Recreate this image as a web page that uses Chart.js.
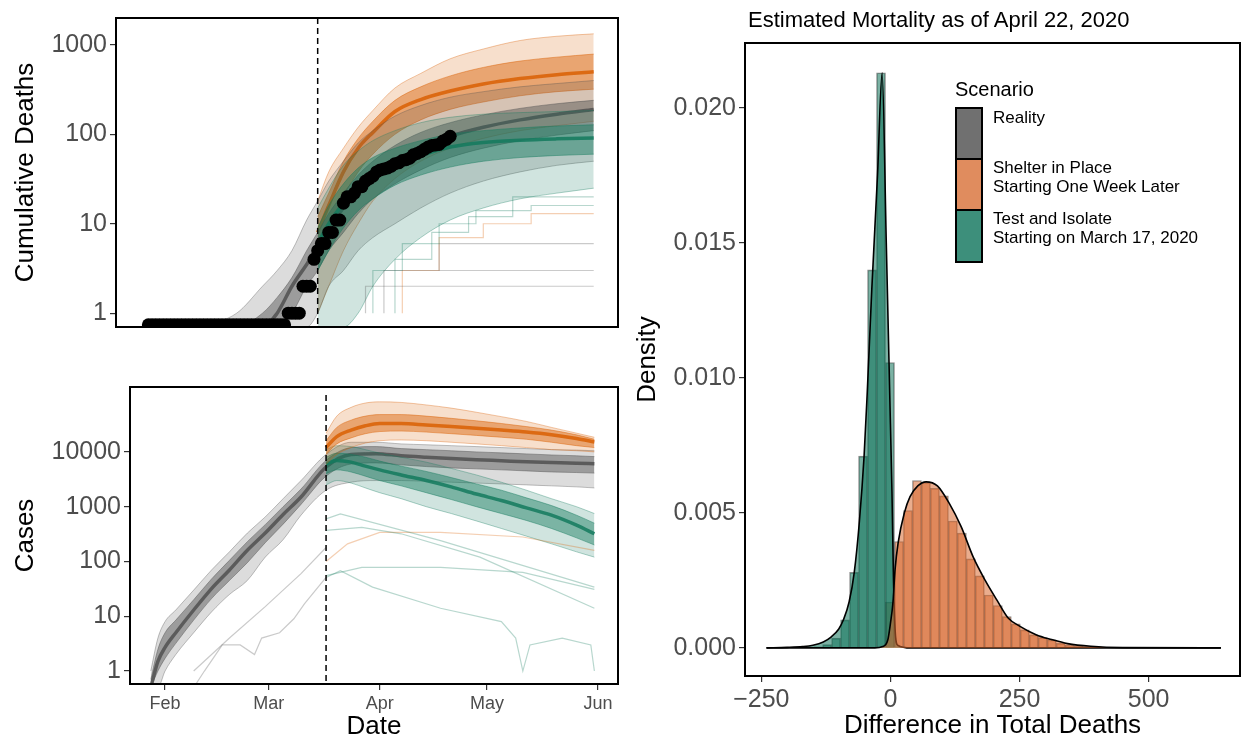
<!DOCTYPE html>
<html>
<head>
<meta charset="utf-8">
<script src="https://cdn.jsdelivr.net/npm/chart.js@4.4.1/dist/chart.umd.min.js"></script>
<style>
  body { margin: 0; background: #fff; }
  #wrap { position: relative; width: 1241px; height: 740px; font-family: "Liberation Sans", Arial, sans-serif; overflow: hidden; }
  .pane { position: absolute; }
  #title { position: absolute; left: 748px; top: 7px; font-size: 22px; color: #000; white-space: nowrap; }
  #legend { position: absolute; left: 955px; top: 78px; color: #000; }
  #legend .head { font-size: 20px; margin-bottom: 6px; }
  #legend .row { position: relative; height: 52px; }
  #legend .key { position: absolute; left: 0; top: 0; width: 24px; height: 50px; border: 2px solid #000; }
  #legend .lab { position: absolute; left: 38px; font-size: 17px; line-height: 19px; white-space: nowrap; }
</style>
</head>
<body>
<div id="wrap">
  <div class="pane" style="left:0;top:0;width:630px;height:345px"><canvas id="deaths"></canvas></div>
  <div class="pane" style="left:0;top:345px;width:630px;height:395px"><canvas id="cases"></canvas></div>
  <div class="pane" style="left:630px;top:0;width:611px;height:740px"><canvas id="density"></canvas></div>
  <div id="title">Estimated Mortality as of April 22, 2020</div>
  <div id="legend">
    <div class="head">Scenario</div>
    <div class="row"><div class="key" style="background:#707070"></div><div class="lab" style="top:1px">Reality</div></div>
    <div class="row"><div class="key" style="background:#e08c5e;top:-1px"></div><div class="lab" style="top:-1px">Shelter in Place<br>Starting One Week Later</div></div>
    <div class="row"><div class="key" style="background:#3d8f7b;top:-2px"></div><div class="lab" style="top:-2px">Test and Isolate<br>Starting on March 17, 2020</div></div>
  </div>
</div>
<script>
// ---- shared date axis (day of year 2020) ----
const monthTicks = [32, 61, 92, 122, 153];
const monthLabels = ["Feb", "Mar", "Apr", "May", "Jun"];
const interventionDay = 77;

// ---- cumulative deaths panel ----
const deathTicks = [1, 10, 100, 1000];
const obsDays = [31, 32, 33, 34, 35, 36, 37, 38, 39, 40, 41, 42, 43, 44, 45, 46, 47, 48, 49, 50,
  51, 52, 53, 54, 55, 56, 57, 58, 59, 60, 61, 62, 63, 64, 65, 66, 67, 68, 69, 70,
  71, 72, 73, 74, 75, 76, 77, 78, 79, 80, 81, 82, 83, 84, 85, 86, 87, 88, 89, 90,
  91, 92, 93, 94, 95, 96, 97, 98, 99, 100, 101, 102, 103, 104, 105, 106, 107, 108, 109, 110,
  111, 112, 113];
const obsDeaths = [0.74, 0.74, 0.74, 0.74, 0.74, 0.74, 0.74, 0.74, 0.74, 0.74, 0.74, 0.74, 0.74, 0.74, 0.74, 0.74, 0.74, 0.74, 0.74, 0.74,
  0.74, 0.74, 0.74, 0.74, 0.74, 0.74, 0.74, 0.74, 0.74, 0.74, 0.74, 0.74, 0.74, 0.74, 0.74, 0.74, 0.74, 0.74, 1, 1,
  1, 1, 2, 2, 2, 4, 5, 6, 6, 8, 8, 11, 11, 17, 20, 20, 22, 26, 26, 30,
  32, 34, 38, 40, 41, 42, 44, 47, 48, 51, 52, 54, 59, 61, 64, 68, 72, 75, 76, 77,
  84, 88, 95];

const deathRealDays = [45, 55, 62, 66, 70, 74, 77, 80, 84, 88, 92, 98, 105, 113, 122, 132, 142, 152];
const deathRealHi    = [0.7, 1, 2, 3, 5, 11, 18, 30, 50, 80, 110, 160, 210, 260, 300, 340, 370, 400];
const deathRealMidHi = [0.7, 0.7, 1, 1.5, 2.5, 5, 8, 13, 22, 35, 50, 75, 105, 135, 165, 195, 220, 240];
const deathRealMed   = [0.7, 0.7, 0.7, 1, 2, 3.5, 5.5, 9, 15, 24, 34, 50, 70, 95, 120, 145, 168, 190];
const deathRealMidLo = [0.7, 0.7, 0.7, 0.7, 1, 2, 3, 5, 8, 13, 19, 28, 40, 55, 70, 85, 98, 110];
const deathRealLo    = [0.7, 0.7, 0.7, 0.7, 0.7, 0.7, 1, 2, 3, 5, 7, 10, 15, 22, 30, 38, 45, 50];

const deathScenDays = [77, 80, 84, 88, 92, 98, 105, 113, 122, 132, 142, 152];
const deathShelterHi    = [18, 38, 70, 120, 185, 330, 480, 700, 900, 1120, 1250, 1330];
const deathShelterMidHi = [12, 22, 50, 90, 140, 240, 340, 450, 560, 660, 730, 790];
const deathShelterMed   = [8, 16, 38, 70, 105, 180, 245, 305, 365, 420, 465, 500];
const deathShelterMidLo = [4, 8, 20, 38, 60, 100, 145, 190, 230, 270, 300, 320];
const deathShelterLo    = [1, 2, 5, 10, 18, 32, 50, 70, 90, 110, 125, 140];
const deathTestHi    = [15, 25, 45, 65, 85, 110, 135, 155, 168, 175, 180, 185];
const deathTestMidHi = [9, 16, 28, 42, 55, 70, 85, 100, 110, 118, 124, 128];
const deathTestMed   = [6, 10, 17, 26, 34, 46, 58, 72, 81, 86, 89, 91];
const deathTestMidLo = [3, 5, 9, 14, 19, 27, 35, 43, 50, 55, 58, 60];
const deathTestLo    = [0.7, 0.7, 0.7, 1, 2, 4, 7, 11, 15, 19, 22, 25];

const deathOutRealADays = [90, 101, 152];
const deathOutRealA = [1, 2, 2];
const deathOutRealBDays = [95, 109, 152];
const deathOutRealB = [1, 3, 3];
const deathOutRealCDays = [110, 132, 152];
const deathOutRealC = [3, 6, 6];
const deathOutTestADays = [92, 100, 110, 120, 135, 152];
const deathOutTestA = [1, 3, 6, 10, 14, 16];
const deathOutTestBDays = [98, 108, 118, 130, 152];
const deathOutTestB = [1, 4, 8, 12, 20];
const deathOutShelterDays = [100, 110, 122, 135, 152];
const deathOutShelter = [1, 3, 7, 10, 13];

// ---- cases panel ----
const caseTicks = [1, 10, 100, 1000, 10000];
const caseRealDays = [28, 30, 32, 35, 40, 45, 50, 55, 60, 65, 70, 77, 84, 91, 98, 105, 112, 119, 126, 133, 140, 147, 152];
const caseRealHi    = [1, 4, 8, 13, 30, 70, 150, 330, 650, 1400, 3000, 9000, 15000, 15000, 14000, 13500, 13000, 12500, 12000, 11500, 11000, 10800, 10500];
const caseRealMidHi = [0.7, 2.5, 5, 8.5, 20, 48, 105, 230, 470, 1000, 2100, 7000, 12000, 12500, 11500, 11000, 10500, 10000, 9600, 9200, 8800, 8500, 8200];
const caseRealMed   = [0.5, 1.5, 2.7, 5, 13, 32, 70, 160, 330, 720, 1500, 5300, 9000, 9300, 8500, 8000, 7600, 7200, 6900, 6600, 6400, 6200, 6100];
const caseRealMidLo = [0.5, 1, 1.7, 3.2, 8.5, 21, 45, 95, 220, 480, 1100, 3600, 6000, 6300, 5800, 5400, 5100, 4900, 4700, 4500, 4300, 4200, 4100];
const caseRealLo    = [0.5, 0.5, 1, 2, 5, 12, 25, 45, 120, 250, 700, 2000, 2800, 3000, 3000, 2900, 2800, 2700, 2600, 2500, 2400, 2300, 2200];

const caseScenDays = [77, 80, 84, 88, 92, 98, 105, 112, 119, 126, 133, 140, 147, 152];
const caseShelterHi    = [22000, 45000, 65000, 78000, 82000, 80000, 72000, 63000, 53000, 44000, 36000, 28000, 22000, 18500];
const caseShelterMidHi = [16000, 28000, 38000, 45000, 48000, 48000, 45000, 41000, 37000, 33000, 29000, 25000, 20500, 17000];
const caseShelterMed   = [12000, 19000, 25000, 30000, 33000, 33000, 31000, 29000, 27000, 25000, 23000, 20500, 17500, 15200];
const caseShelterMidLo = [9000, 14000, 18000, 21500, 23500, 24000, 23000, 21500, 20000, 18500, 17000, 15000, 13000, 12000];
const caseShelterLo    = [6000, 9000, 12000, 14500, 16000, 16500, 16000, 15000, 14000, 13000, 12000, 11000, 10500, 10000];
const caseTestHi    = [11000, 13000, 12500, 11000, 9500, 8000, 6500, 5000, 3800, 2800, 2000, 1400, 1000, 750];
const caseTestMidHi = [8000, 9500, 9000, 8000, 6800, 5500, 4400, 3400, 2600, 2000, 1450, 1050, 700, 500];
const caseTestMed   = [6000, 7000, 6500, 5500, 4700, 3800, 3000, 2300, 1700, 1300, 950, 700, 460, 320];
const caseTestMidLo = [4000, 4700, 4300, 3600, 3000, 2400, 1800, 1350, 1000, 750, 560, 400, 270, 200];
const caseTestLo    = [2500, 3000, 2700, 2200, 1800, 1400, 1000, 750, 550, 400, 290, 210, 150, 120];

const caseOutRealADays = [40, 43, 48, 53, 57, 59, 64, 68, 71, 77];
const caseOutRealA = [0.5, 1, 3, 3, 2, 4, 5, 9, 17, 51];
const caseOutRealBDays = [40, 50, 60, 70, 77];
const caseOutRealB = [1, 4, 15, 60, 180];
const caseOutTestADays = [77, 81, 90, 109, 126, 130, 132, 134, 143, 151, 152];
const caseOutTestA = [51, 68, 34, 14, 8, 4, 1, 3, 4, 3, 1];
const caseOutTestBDays = [77, 87, 109, 132, 152];
const caseOutTestB = [55, 78, 78, 63, 31];
const caseOutTestCDays = [77, 87, 98, 120, 152];
const caseOutTestC = [370, 420, 320, 120, 14];
const caseOutTestDDays = [77, 81, 109, 152];
const caseOutTestD = [600, 740, 240, 34];
const caseOutShelterDays = [77, 83, 92, 109, 132, 152];
const caseOutShelter = [100, 210, 340, 340, 280, 160];

// ---- density panel ----
const diffTicks = [-250, 0, 250, 500];
const densTicks = [0, 0.005, 0.01, 0.015, 0.02];
const testBins = [-140.0, -122.6, -105.2, -87.8, -70.4, -53.0, -35.6, -18.2, -0.8];
const testHist = [0.00004, 0.00012, 0.00036, 0.00104, 0.0028, 0.0071, 0.0140, 0.0213, 0.01057];
const shelterBins = [-0.8, 16.6, 34.0, 51.4, 68.8, 86.2, 103.6, 121.0, 138.4, 155.8, 173.2, 190.6, 208.0,
  225.4, 242.8, 260.2, 277.6, 295.0, 312.4, 329.8, 347.2, 364.6, 382.0, 399.4];
const shelterHist = [0.0017, 0.00394, 0.00509, 0.0062, 0.00612, 0.00591, 0.00563, 0.0047, 0.00425, 0.0033, 0.00267, 0.00196, 0.00157,
  0.00116, 0.00089, 0.00067, 0.00048, 0.00038, 0.0003, 0.00017, 0.0001, 0.00006, 0.00004, 0.00003];
const testCurveX = [-240, -200, -170, -150, -130, -115, -100, -91, -80, -70, -60, -51, -45, -36, -25, -16, -8, 0, 3, 6, 9, 14, 40, 640];
const testCurveY = [0, 0.00002, 0.00005, 0.0001, 0.00022, 0.0004, 0.0007, 0.00104, 0.0017, 0.0028, 0.0047, 0.0071, 0.0094, 0.0133, 0.0175, 0.0213, 0.0150, 0.0083, 0.0058, 0.0025, 0.0007, 0.0001, 0, 0];
const shelterCurveX = [-240, -30, -15, -5, 0, 5, 9, 15, 27, 38, 53, 69, 91, 114, 137, 160, 183, 206, 228, 251, 282, 312, 343, 388, 450, 640];
const shelterCurveY = [0, 0, 0.00005, 0.0003, 0.0009, 0.0017, 0.0029, 0.0039, 0.005, 0.0056, 0.006, 0.00615, 0.006, 0.00535, 0.00449, 0.00338, 0.00252, 0.00178, 0.00111, 0.0008, 0.00049, 0.00031, 0.00016, 0.00006, 0.00001, 0];

// ---- helpers ----
Chart.defaults.font.family = '"Liberation Sans", Arial, sans-serif';
const GRAY = [80, 80, 80];
const ORANGE = [217, 95, 2];
const GREEN = [20, 122, 94];
const rgba = (c, a) => `rgba(${c[0]},${c[1]},${c[2]},${a})`;
const pts = (xs, ys) => xs.map((x, i) => ({ x: x, y: ys[i] }));

// earlier datasets are painted last, so the median comes first and bands fill to the next one
function ensemble(days, lo, midLo, med, midHi, hi, c) {
  const base = { pointRadius: 0, cubicInterpolationMode: "monotone", borderWidth: 1 };
  return [
    { ...base, data: pts(days, med), borderColor: rgba(c, 0.85), borderWidth: 3.5, fill: false },
    { ...base, data: pts(days, midHi), borderColor: rgba(c, 0.45), fill: "+1", backgroundColor: rgba(c, 0.45) },
    { ...base, data: pts(days, midLo), borderColor: rgba(c, 0.45), fill: false },
    { ...base, data: pts(days, hi), borderColor: rgba(c, 0.35), fill: "+1", backgroundColor: rgba(c, 0.2) },
    { ...base, data: pts(days, lo), borderColor: rgba(c, 0.35), fill: false },
  ];
}

function trace(days, vals, c, stepped) {
  return { data: pts(days, vals), borderColor: rgba(c, 0.3), borderWidth: 1.2, pointRadius: 0,
    fill: false, stepped: stepped ? "after" : false };
}

const frame = {
  id: "frame",
  afterDatasetsDraw(chart, args, opts) {
    const { ctx, chartArea: a, scales } = chart;
    ctx.save();
    if (opts.dash) {
      const x = scales.x.getPixelForValue(interventionDay);
      ctx.setLineDash([6, 4]);
      ctx.lineWidth = 1.5;
      ctx.strokeStyle = "#000";
      ctx.beginPath();
      ctx.moveTo(x, a.top + (opts.dashTop || 0));
      ctx.lineTo(x, a.bottom);
      ctx.stroke();
    }
    ctx.setLineDash([]);
    ctx.lineWidth = 2;
    ctx.strokeStyle = "#000";
    ctx.strokeRect(a.left, a.top, a.right - a.left, a.bottom - a.top);
    ctx.restore();
  },
};

const tickGrid = { display: true, drawOnChartArea: false, drawTicks: true, tickLength: 6, color: "#333", lineWidth: 1.2, offset: false };
const tickFont = (size) => ({ color: "#4d4d4d", font: { size: size }, padding: 3 });
const dateAxis = (show) => ({
  type: "linear", min: 22.2, max: 158.6, display: show,
  afterBuildTicks: (s) => { s.ticks = monthTicks.map((v) => ({ value: v })); },
  afterFit: (s) => { s.height = show ? 56 : 0; },
  ticks: { ...tickFont(18), callback: (v) => monthLabels[monthTicks.indexOf(v)] },
  grid: tickGrid, border: { display: false },
  title: { display: true, text: "Date", color: "#000", font: { size: 26, lineHeight: 1 }, padding: 0 },
});
const logAxis = (min, max, ticks, width, label) => ({
  type: "logarithmic", min: min, max: max,
  afterBuildTicks: (s) => { s.ticks = ticks.map((v) => ({ value: v })); },
  afterFit: (s) => { s.width = width; },
  ticks: { ...tickFont(25), callback: (v) => String(v) },
  grid: tickGrid, border: { display: false },
  title: { display: true, text: label, color: "#000", font: { size: 26, lineHeight: 1.2 }, padding: { top: 10, bottom: 0 } },
});
const common = {
  responsive: true, maintainAspectRatio: false, animation: false, devicePixelRatio: 1,
  plugins: { legend: { display: false }, tooltip: { enabled: false } },
};

// ---- cumulative deaths ----
new Chart(document.getElementById("deaths"), {
  type: "line",
  data: {
    datasets: [
      { data: pts(obsDays, obsDeaths), showLine: false, pointRadius: 6.5, pointBackgroundColor: "#000",
        pointBorderColor: "#000", pointBorderWidth: 0 },
      trace(deathOutRealADays, deathOutRealA, GRAY, true),
      trace(deathOutRealBDays, deathOutRealB, GRAY, true),
      trace(deathOutRealCDays, deathOutRealC, GRAY, true),
      trace(deathOutTestADays, deathOutTestA, GREEN, true),
      trace(deathOutTestBDays, deathOutTestB, GREEN, true),
      trace(deathOutShelterDays, deathOutShelter, ORANGE, true),
      ...ensemble(deathScenDays, deathTestLo, deathTestMidLo, deathTestMed, deathTestMidHi, deathTestHi, GREEN),
      ...ensemble(deathRealDays, deathRealLo, deathRealMidLo, deathRealMed, deathRealMidHi, deathRealHi, GRAY),
      ...ensemble(deathScenDays, deathShelterLo, deathShelterMidLo, deathShelterMed, deathShelterMidHi, deathShelterHi, ORANGE),
    ],
  },
  options: {
    ...common,
    layout: { padding: { top: 12, right: 12, bottom: 14, left: 0 } },
    plugins: { ...common.plugins, frame: { dash: true } },
    scales: { x: dateAxis(false), y: logAxis(0.72, 2000, deathTicks, 116, "Cumulative Deaths") },
  },
  plugins: [frame],
});

// ---- cases ----
new Chart(document.getElementById("cases"), {
  type: "line",
  data: {
    datasets: [
      trace(caseOutRealADays, caseOutRealA, GRAY, false),
      trace(caseOutRealBDays, caseOutRealB, GRAY, false),
      trace(caseOutTestADays, caseOutTestA, GREEN, false),
      trace(caseOutTestBDays, caseOutTestB, GREEN, false),
      trace(caseOutTestCDays, caseOutTestC, GREEN, false),
      trace(caseOutTestDDays, caseOutTestD, GREEN, false),
      trace(caseOutShelterDays, caseOutShelter, ORANGE, false),
      ...ensemble(caseScenDays, caseShelterLo, caseShelterMidLo, caseShelterMed, caseShelterMidHi, caseShelterHi, ORANGE),
      ...ensemble(caseScenDays, caseTestLo, caseTestMidLo, caseTestMed, caseTestMidHi, caseTestHi, GREEN),
      ...ensemble(caseRealDays, caseRealLo, caseRealMidLo, caseRealMed, caseRealMidHi, caseRealHi, GRAY),
    ],
  },
  options: {
    ...common,
    layout: { padding: { top: 42, right: 12, bottom: 0, left: 0 } },
    plugins: { ...common.plugins, frame: { dash: true, dashTop: 8 } },
    scales: { x: dateAxis(true), y: logAxis(0.58, 153000, caseTicks, 130, "Cases") },
  },
  plugins: [frame],
});

// ---- density of differences ----
const BAR_GREEN = [15, 115, 90];
const BAR_ORANGE = [217, 105, 50];
const barStyle = { grouped: false, barPercentage: 1, categoryPercentage: 1, borderWidth: 1,
  borderColor: "rgba(0,0,0,0.45)", order: 2 };
const curveStyle = { type: "line", pointRadius: 0, borderColor: "#000", borderWidth: 1.6,
  cubicInterpolationMode: "monotone", fill: "origin", order: 1 };
new Chart(document.getElementById("density"), {
  type: "bar",
  data: {
    datasets: [
      { ...barStyle, data: pts(testBins, testHist), backgroundColor: rgba(BAR_GREEN, 0.55) },
      { ...barStyle, data: pts(shelterBins, shelterHist), backgroundColor: rgba(BAR_ORANGE, 0.55) },
      { ...curveStyle, data: pts(shelterCurveX, shelterCurveY), backgroundColor: rgba(BAR_ORANGE, 0.55) },
      { ...curveStyle, data: pts(testCurveX, testCurveY), backgroundColor: rgba(BAR_GREEN, 0.55) },
    ],
  },
  options: {
    ...common,
    layout: { padding: { top: 43, right: 1, bottom: 0, left: 0 } },
    plugins: { ...common.plugins, frame: { dash: false } },
    scales: {
      x: {
        type: "linear", min: -281.6, max: 677, offset: false,
        afterBuildTicks: (s) => { s.ticks = diffTicks.map((v) => ({ value: v })); },
        afterFit: (s) => { s.height = 64; },
        ticks: { ...tickFont(25), callback: (v) => (v < 0 ? "\u2212" + Math.abs(v) : String(v)) },
        grid: tickGrid, border: { display: false },
        title: { display: true, text: "Difference in Total Deaths", color: "#000", font: { size: 26, lineHeight: 1 }, padding: 1 },
      },
      y: {
        type: "linear", min: -0.00104, max: 0.0224,
        afterBuildTicks: (s) => { s.ticks = densTicks.map((v) => ({ value: v })); },
        afterFit: (s) => { s.width = 115; },
        ticks: { ...tickFont(25), callback: (v) => v.toFixed(3) },
        grid: tickGrid, border: { display: false },
        title: { display: true, text: "Density", color: "#000", font: { size: 26, lineHeight: 1.2 }, padding: { top: 2, bottom: 0 } },
      },
    },
  },
  plugins: [frame],
});
</script>
</body>
</html>
